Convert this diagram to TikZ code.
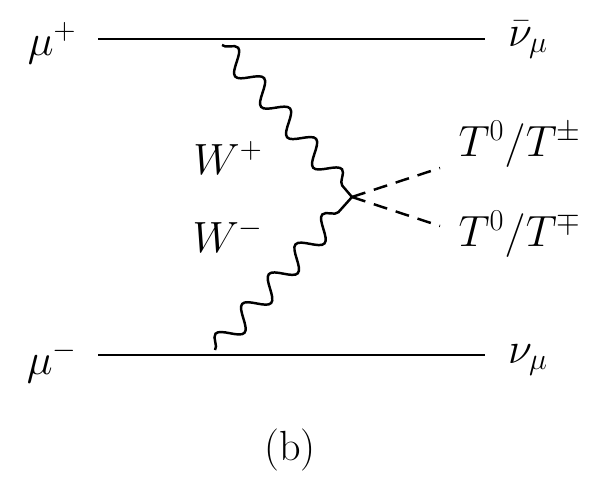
\documentclass[tikz,border=0pt]{standalone}
\usepackage{amsmath,amssymb}
\usetikzlibrary{decorations.pathmorphing,positioning}
\tikzset{
  fermion/.style={line width=1.7pt},
  boson/.style={line width=1.4pt, decorate,
    decoration={snake, amplitude=2.1mm, segment length=8mm}},
  scalar/.style={line width=1.4pt, dash pattern=on 2.8mm off 1.8mm},
}
\begin{document}
\begin{tikzpicture}[x=0.02cm,y=-0.02cm, every node/.style={font=\fontsize{24}{28}\selectfont}]
    \useasboundingbox (0,0) rectangle (606,497);
    % External legs
    \coordinate (a1) at (98,39);
    \coordinate (a2) at (485,39);
    \coordinate (b1) at (98,355);
    \coordinate (b2) at (485,355);
    % Vertices
    \coordinate (vt) at (222,45);
    \coordinate (vb) at (215,350);
    \coordinate (vc) at (352,197);
    \coordinate (s1) at (440,168);
    \coordinate (s2) at (440,226);

    % Labels
    \node (mup) at (52,43) {$\mu^+$};
    \node (nubar) at (528,40) {$\bar{\nu}_\mu$};
    \node (mum) at (52,362) {$\mu^-$};
    \node (nu) at (528,360) {$\nu_\mu$};
    \node (wp) at (228,158) {$W^+$};
    \node (wm) at (228,236) {$W^-$};
    \node (t1) at (520,144) {$T^0/T^\pm$};
    \node (t2) at (520,234) {$T^0/T^\mp$};
    \node (cap) at (290,450) {(b)};

    % Lines
    \draw[fermion] (a1) -- (a2);
    \draw[fermion] (b1) -- (b2);
    \draw[boson] (vt) -- (vc);
    \draw[boson] (vb) -- (vc);
    \draw[scalar] (vc) -- (s1);
    \draw[scalar] (vc) -- (s2);
\end{tikzpicture}
\end{document}
